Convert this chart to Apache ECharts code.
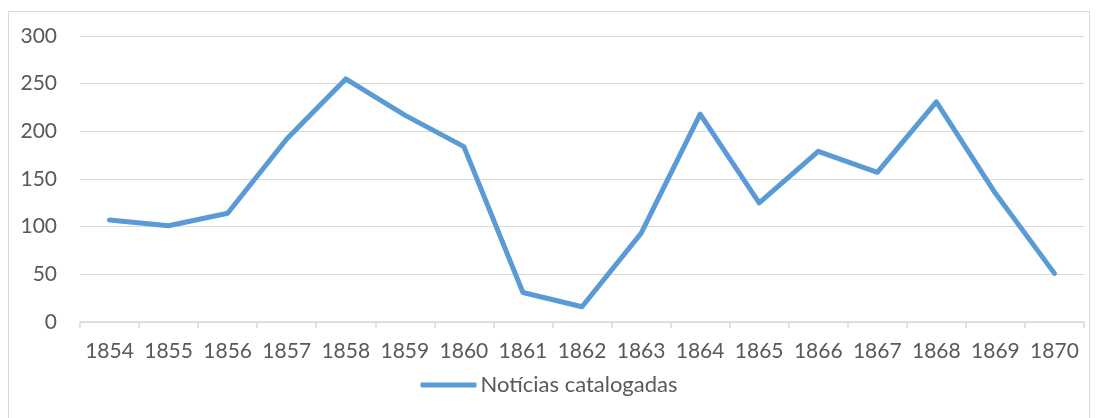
<!DOCTYPE html>
<html>
<head>
<meta charset="utf-8">
<script src="https://cdn.jsdelivr.net/npm/echarts@6/dist/echarts.min.js"></script>
<style>
  html, body { margin: 0; padding: 0; background: #fff; }
  #frame { position: absolute; left: 8px; top: 11px; width: 1082px; height: 420px; border: 1px solid #d9d9d9; box-sizing: border-box; }
  #chart { position: absolute; left: 0; top: 0; width: 1098px; height: 418px; }
</style>
</head>
<body>
<div id="frame"></div>
<div id="chart"></div>
<script>
var years = ['1854', '1855', '1856', '1857', '1858', '1859', '1860', '1861', '1862',
  '1863', '1864', '1865', '1866', '1867', '1868', '1869', '1870'];
var noticias = [107, 101, 114, 192, 255, 217, 184, 31, 16, 93, 218, 125, 179, 157, 231, 135, 51];

var chart = echarts.init(document.getElementById('chart'));

var option = {
  animation: false,
  textStyle: { fontFamily: 'Lato' },
  grid: { left: 80, right: 14, top: 36, bottom: 96 },
  legend: {
    bottom: 17,
    left: 'center',
    icon: 'roundRect',
    itemWidth: 56,
    itemHeight: 5,
    itemGap: 4,
    textStyle: { fontSize: 22, color: '#595959', fontFamily: 'Lato', padding: [0, 0, 0, -1] },
    data: ['Notícias catalogadas']
  },
  xAxis: {
    type: 'category',
    data: years,
    boundaryGap: true,
    axisLine: { lineStyle: { color: '#d9d9d9', width: 1.5 } },
    axisTick: { show: true, interval: 0, length: 6, lineStyle: { color: '#d9d9d9', width: 1.5 } },
    axisLabel: { interval: 0, fontSize: 21, color: '#595959', margin: 19 }
  },
  yAxis: {
    type: 'value',
    min: 0,
    max: 300,
    interval: 50,
    axisLine: { show: false },
    axisTick: { show: false },
    splitLine: { lineStyle: { color: '#d9d9d9', width: 1 } },
    axisLabel: { fontSize: 21, color: '#595959', margin: 23 }
  },
  series: [{
    name: 'Notícias catalogadas',
    type: 'line',
    data: noticias,
    showSymbol: false,
    symbol: 'none',
    lineStyle: { color: '#5b9bd5', width: 5, cap: 'round', join: 'round' },
    itemStyle: { color: '#5b9bd5' }
  }]
};

chart.setOption(option);
</script>
</body>
</html>
